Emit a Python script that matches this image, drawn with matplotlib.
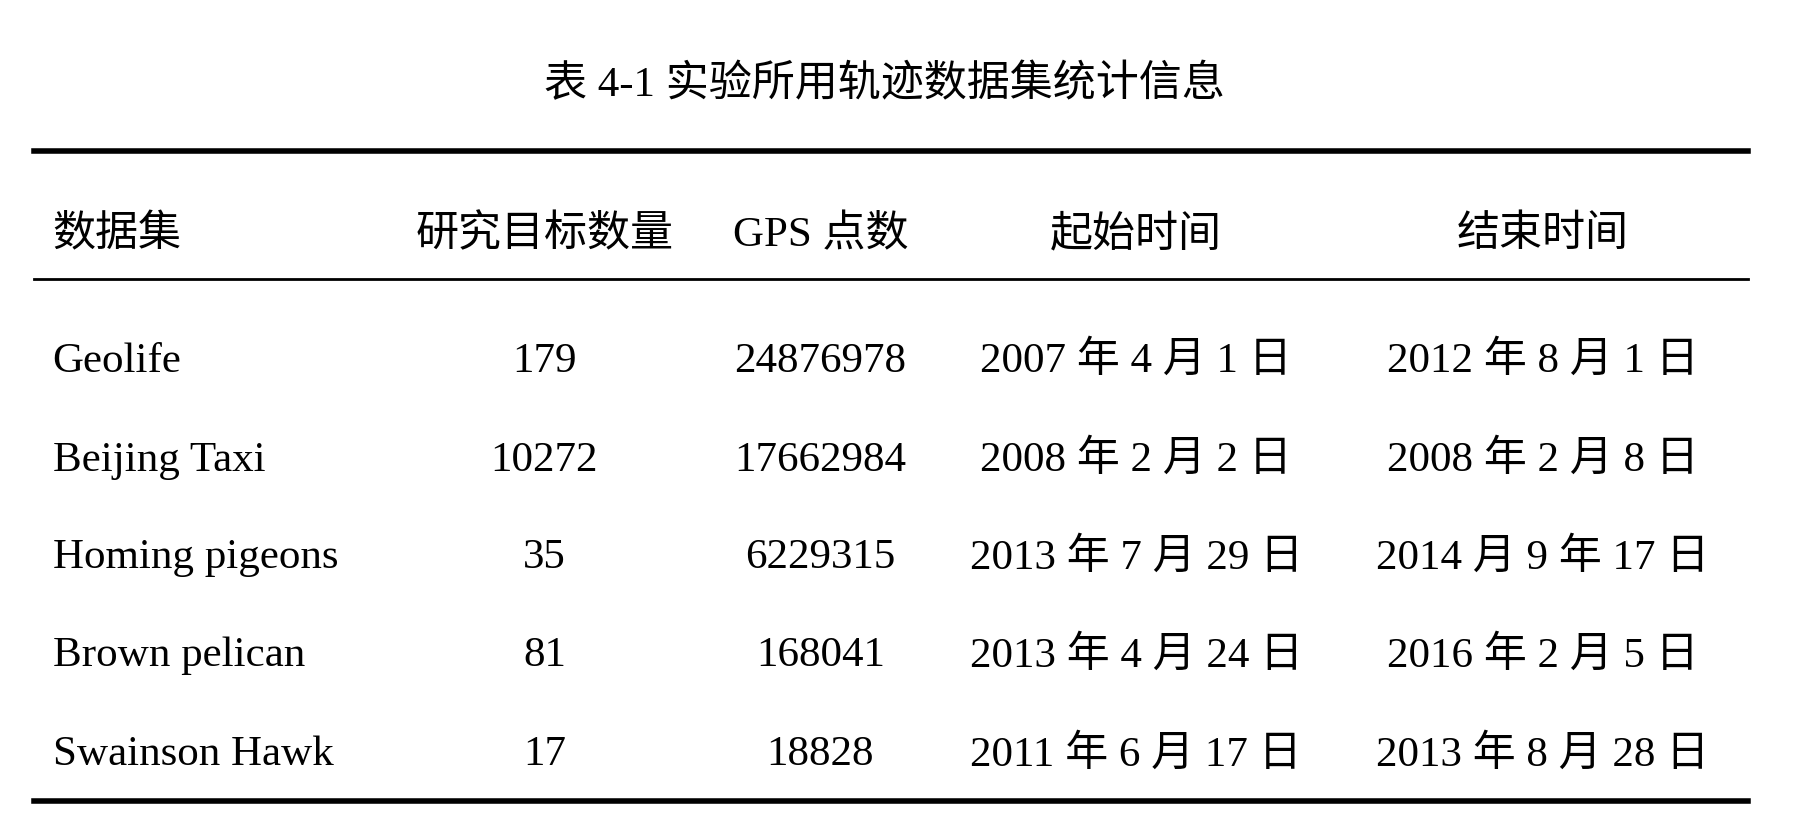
import matplotlib
matplotlib.use("Agg")
import matplotlib.pyplot as plt

title = "表 4-1 实验所用轨迹数据集统计信息"
headers = ["数据集", "研究目标数量", "GPS 点数", "起始时间", "结束时间"]
datasets = ["Geolife", "Beijing Taxi", "Homing pigeons", "Brown pelican", "Swainson Hawk"]
targets = ["179", "10272", "35", "81", "17"]
points = ["24876978", "17662984", "6229315", "168041", "18828"]
starts = ["2007 年 4 月 1 日", "2008 年 2 月 2 日", "2013 年 7 月 29 日", "2013 年 4 月 24 日", "2011 年 6 月 17 日"]
ends = ["2012 年 8 月 1 日", "2008 年 2 月 8 日", "2014 月 9 年 17 日", "2016 年 2 月 5 日", "2013 年 8 月 28 日"]

fam = ["Liberation Serif", "Noto Sans CJK SC"]
fig = plt.figure(figsize=(18.15, 8.36), dpi=100)
fs = 31

def yf(py):
    return 1 - py / 710

fig.text(0.487, yf(72), title, ha="center", va="center", fontsize=fs, family=fam)
x0, x1 = 0.019, 0.963
for py, lw in [(128, 4), (237, 2), (680, 4)]:
    fig.add_artist(plt.Line2D([x0, x1], [yf(py)] * 2, color="black", lw=lw))

xs = [0.029, 0.300, 0.452, 0.626, 0.850]
for i, h in enumerate(headers):
    fig.text(xs[i], yf(200), h, ha="left" if i == 0 else "center", va="center", fontsize=fs, family=fam)

rows_y = [307, 391, 474, 557, 641]
for j, py in enumerate(rows_y):
    vals = [datasets[j], targets[j], points[j], starts[j], ends[j]]
    for i, v in enumerate(vals):
        fig.text(xs[i], yf(py), v, ha="left" if i == 0 else "center", va="center", fontsize=fs, family=fam)

fig.savefig("out.png", dpi=100, facecolor="white")
